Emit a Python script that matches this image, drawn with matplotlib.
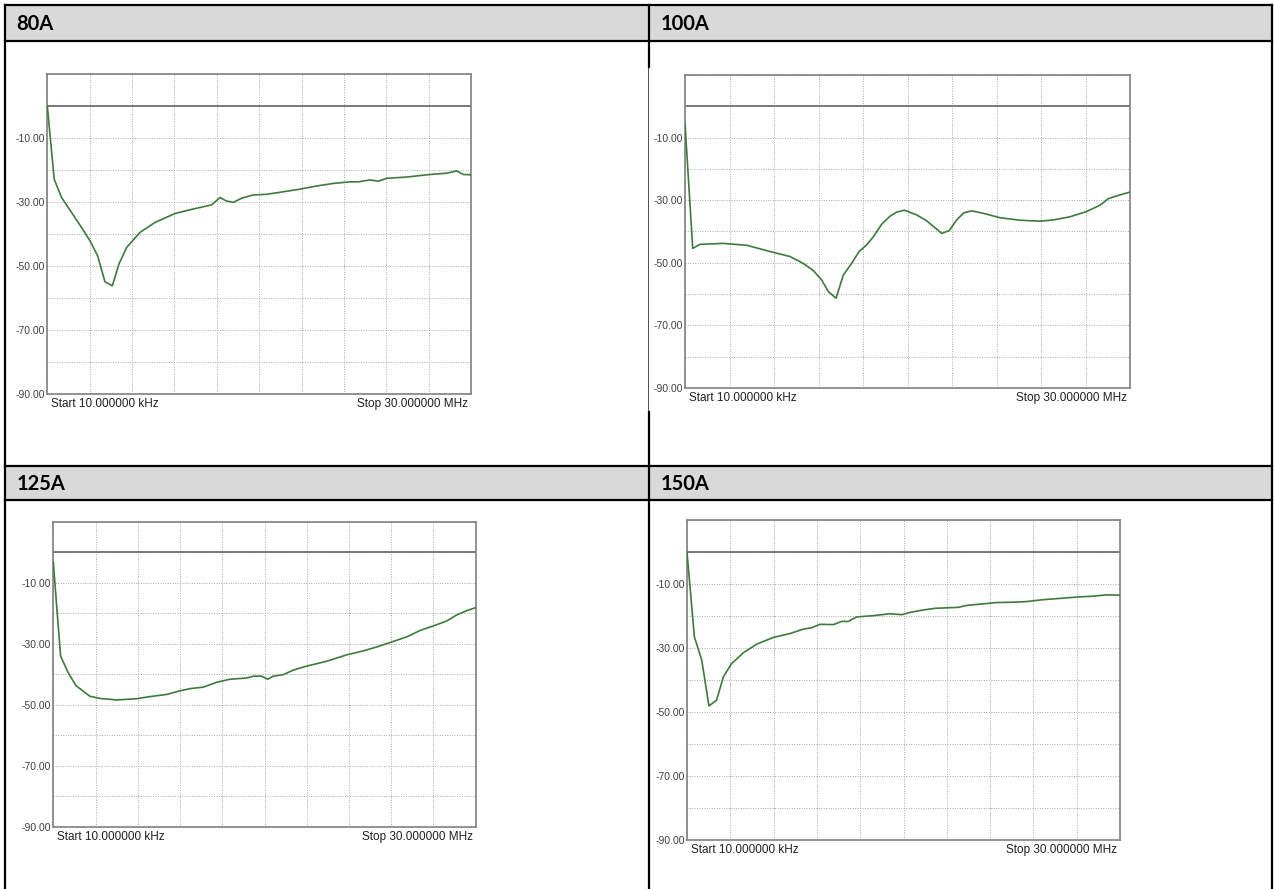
import numpy as np
import matplotlib
matplotlib.use('Agg')
import matplotlib.pyplot as plt
from matplotlib.lines import Line2D
from matplotlib.patches import Rectangle

W, H = 1274, 889

# panel titles
titles = ['80A', '100A', '125A', '150A']

# frequency (MHz) / level (dB)
f_80 = [0.01, 0.50, 1.02, 1.73, 2.44, 3.03, 3.57, 4.09, 4.61, 5.08, 5.63, 6.57, 7.63,
        9.05, 10.23, 11.64, 12.23, 12.70, 13.18, 13.77, 14.59, 15.53, 16.71, 17.89,
        19.07, 20.25, 21.43, 22.02, 22.85, 23.44, 24.03, 25.45, 27.10, 28.28, 28.99,
        29.46, 30.0]
db_80 = [0.0, -22.9, -28.6, -33.3, -38.0, -42.1, -46.8, -54.9, -56.2, -49.4, -44.2,
         -39.5, -36.4, -33.6, -32.3, -30.9, -28.6, -29.7, -30.1, -28.8, -27.8, -27.6,
         -26.8, -26.0, -25.0, -24.2, -23.7, -23.7, -23.1, -23.5, -22.6, -22.2, -21.4,
         -21.0, -20.3, -21.4, -21.5]

f_100 = [0.01, 0.53, 1.02, 2.59, 4.17, 5.74, 7.09, 7.98, 8.66, 9.22, 9.67, 10.19,
         10.68, 11.24, 11.74, 12.25, 12.70, 13.26, 13.83, 14.28, 14.79, 15.62, 16.30,
         16.86, 17.31, 17.82, 18.32, 18.81, 19.33, 20.12, 21.24, 22.59, 23.94, 24.83,
         25.96, 27.08, 27.98, 28.54, 29.32, 30.0]
db_100 = [-5.5, -45.4, -44.1, -43.8, -44.4, -46.4, -48.0, -50.2, -52.5, -55.5, -59.2,
          -61.3, -53.9, -50.2, -46.4, -44.3, -41.7, -37.7, -35.1, -33.8, -33.2, -34.7,
          -36.6, -38.8, -40.6, -39.7, -36.3, -34.0, -33.4, -34.2, -35.6, -36.4, -36.7,
          -36.3, -35.3, -33.6, -31.6, -29.5, -28.3, -27.4]

f_125 = [0.01, 0.25, 0.53, 1.07, 1.62, 2.61, 3.32, 4.51, 5.93, 6.87, 8.06, 9.00, 9.71,
         10.66, 11.61, 12.56, 13.74, 14.21, 14.80, 15.23, 15.63, 16.34, 17.05, 18.00,
         19.42, 20.84, 22.02, 22.97, 24.15, 25.10, 26.05, 26.99, 27.94, 28.65, 29.36,
         30.0]
db_125 = [-3.1, -17.6, -34.0, -39.5, -43.7, -47.2, -47.9, -48.4, -48.0, -47.3, -46.6,
          -45.4, -44.7, -44.2, -42.6, -41.6, -41.2, -40.6, -40.6, -41.6, -40.6, -40.1,
          -38.6, -37.3, -35.7, -33.6, -32.3, -31.0, -29.2, -27.7, -25.6, -24.1, -22.5,
          -20.5, -19.1, -18.1]

f_150 = [0.01, 0.52, 1.03, 1.53, 2.06, 2.53, 3.10, 3.91, 4.84, 5.99, 7.14, 8.07, 8.64,
         9.22, 10.15, 10.72, 11.18, 11.76, 12.91, 14.07, 14.88, 15.45, 16.26, 17.19,
         18.80, 19.38, 20.77, 21.46, 22.61, 23.53, 24.69, 25.84, 27.00, 28.15, 29.07,
         30.0]
db_150 = [0.0, -26.4, -33.7, -48.0, -46.2, -38.9, -34.8, -31.4, -28.7, -26.6, -25.4,
          -24.0, -23.6, -22.5, -22.6, -21.6, -21.6, -20.2, -19.8, -19.2, -19.5, -18.8,
          -18.1, -17.5, -17.2, -16.6, -16.0, -15.7, -15.6, -15.4, -14.8, -14.4, -14.0,
          -13.7, -13.3, -13.4]

freqs = [f_80, f_100, f_125, f_150]
levels = [db_80, db_100, db_125, db_150]

ytick_lab = [-10, -30, -50, -70, -90]
start_txt = 'Start 10.000000 kHz'
stop_txt = 'Stop 30.000000 MHz'

# plot boxes in pixels: left, right, top, bottom
boxes = [(47.3, 471, 74, 394), (685, 1130, 75, 388),
         (53.3, 475.7, 522, 826.7), (687, 1120, 520.3, 840.3)]
title_pos = [(16, 23.5), (661, 23.5), (17, 484), (661, 484)]


def fx(x):
    return x / W


def fy(y):
    return 1 - y / H


fig = plt.figure(figsize=(W / 100, H / 100), dpi=100)
fig.patch.set_facecolor('white')

# table: header bands
for y0, y1 in [(5, 40.5), (466, 500)]:
    fig.add_artist(Rectangle((fx(5), fy(y1)), fx(1271.5) - fx(5), fy(y0) - fy(y1),
                             transform=fig.transFigure, facecolor='#d9d9d9',
                             edgecolor='none', zorder=0))

lw_b = 1.6
for y in [5, 40.5, 466, 500]:
    fig.add_artist(Line2D([fx(5), fx(1271.5)], [fy(y), fy(y)], transform=fig.transFigure,
                          color='black', lw=lw_b))
for x in [5, 1271.5]:
    fig.add_artist(Line2D([fx(x), fx(x)], [fy(5), fy(889)], transform=fig.transFigure,
                          color='black', lw=lw_b))
# middle divider (the 100A screenshot covers part of it)
fig.add_artist(Line2D([fx(648.5), fx(648.5)], [fy(5), fy(67)], transform=fig.transFigure,
                      color='black', lw=lw_b))
fig.add_artist(Line2D([fx(647.5), fx(647.5)], [fy(67), fy(412)], transform=fig.transFigure,
                      color='#303030', lw=0.6))
fig.add_artist(Line2D([fx(649), fx(649)], [fy(412), fy(889)], transform=fig.transFigure,
                      color='black', lw=lw_b))

for i in range(4):
    l, r, t, b = boxes[i]
    ax = fig.add_axes([fx(l), fy(b), fx(r) - fx(l), fy(t) - fy(b)])
    ax.set_xlim(0.01, 30)
    ax.set_ylim(-90, 10)
    ax.set_xticks(np.linspace(0.01, 30, 11))
    ax.set_xticklabels([])
    ax.set_yticks(np.arange(-90, 11, 10))
    ax.set_yticklabels(['%.2f' % v if v in ytick_lab else '' for v in np.arange(-90, 11, 10)],
                       fontsize=7.5, family='Liberation Sans', color='#404040')
    ax.tick_params(length=0, pad=1.5)
    ax.grid(True, color='#a8a8a8', lw=0.7, linestyle=(0, (1, 1.5)))
    for s in ax.spines.values():
        s.set_color('#808080')
        s.set_linewidth(1.2)
    ax.axhline(0, color='#707070', lw=1.3, zorder=2)
    ax.plot(freqs[i], levels[i], color='#3d7a3d', lw=1.2, zorder=3)

    fig.text(fx(l + 4), fy(b + 10), start_txt, fontsize=8.5, family='Liberation Sans',
             color='#202020', va='center', ha='left')
    fig.text(fx(r - 3), fy(b + 10), stop_txt, fontsize=8.5, family='Liberation Sans',
             color='#202020', va='center', ha='right')
    tx, ty = title_pos[i]
    fig.text(fx(tx), fy(ty), titles[i], fontsize=14.5, family='Lato', weight='bold',
             color='black', va='center', ha='left')

fig.savefig('out.png', dpi=100)
